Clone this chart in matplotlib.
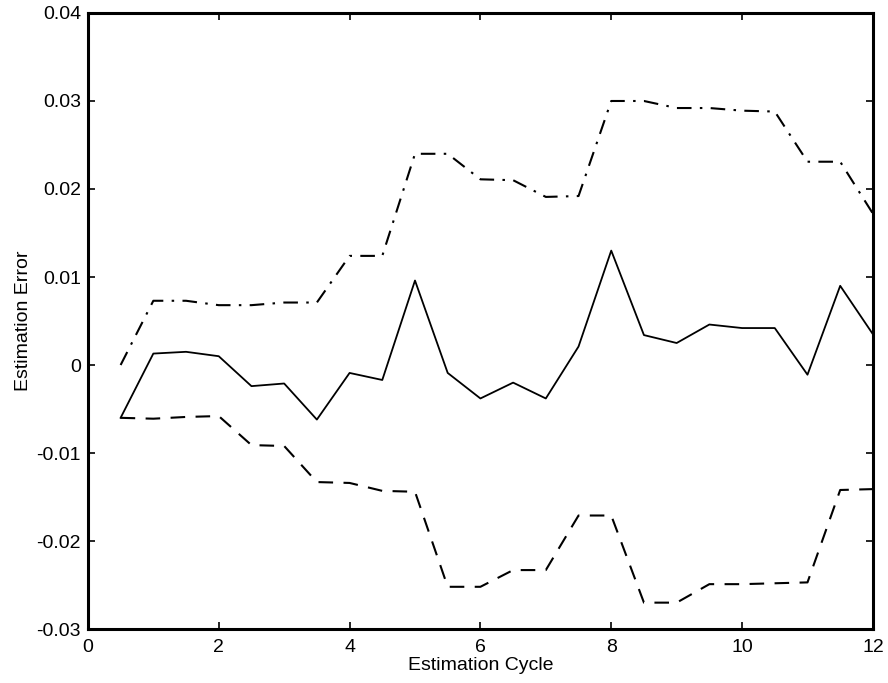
import matplotlib
matplotlib.use("Agg")
import matplotlib.pyplot as plt

plt.rcParams['font.family'] = ['Liberation Sans', 'DejaVu Sans']

# Estimation cycles (half-cycle steps)
cycle = [0.5, 1.0, 1.5, 2.0, 2.5, 3.0, 3.5, 4.0, 4.5, 5.0, 5.5, 6.0,
         6.5, 7.0, 7.5, 8.0, 8.5, 9.0, 9.5, 10.0, 10.5, 11.0, 11.5, 12.0]

# Estimation error
error = [-0.0060, 0.0013, 0.0015, 0.0010, -0.0024, -0.0021, -0.0062, -0.0009,
         -0.0017, 0.0096, -0.0009, -0.0038, -0.0020, -0.0038, 0.0021, 0.0130,
         0.0034, 0.0025, 0.0046, 0.0042, 0.0042, -0.0011, 0.0090, 0.0035]

# Upper bound
upper = [0.0000, 0.0073, 0.0073, 0.0068, 0.0068, 0.0071, 0.0071, 0.0124,
         0.0124, 0.0240, 0.0240, 0.0211, 0.0210, 0.0191, 0.0192, 0.0300,
         0.0300, 0.0292, 0.0292, 0.0289, 0.0288, 0.0231, 0.0231, 0.0172]

# Lower bound
lower = [-0.0060, -0.0061, -0.0059, -0.0058, -0.0091, -0.0092, -0.0133, -0.0134,
         -0.0143, -0.0144, -0.0252, -0.0252, -0.0233, -0.0233, -0.0171, -0.0171,
         -0.0270, -0.0270, -0.0249, -0.0249, -0.0248, -0.0247, -0.0142, -0.0141]

x_ticks = [0, 2, 4, 6, 8, 10, 12]
y_ticks = [-0.03, -0.02, -0.01, 0.0, 0.01, 0.02, 0.03, 0.04]
y_tick_labels = ['-0.03', '-0.02', '-0.01', '0', '0.01', '0.02', '0.03', '0.04']

fig = plt.figure(figsize=(8.88, 6.83), dpi=100)
ax = fig.add_axes([0.099, 0.079, 0.884, 0.902])

ax.plot(cycle, error, color='black', linewidth=1.3, linestyle='-')
ax.plot(cycle, upper, color='black', linewidth=1.5, linestyle=(0, (7, 4, 1.2, 4)))
ax.plot(cycle, lower, color='black', linewidth=1.5, linestyle=(0, (7, 5)))

ax.set_xlim(0, 12)
ax.set_ylim(-0.03, 0.04)
ax.set_xticks(x_ticks)
ax.set_xticklabels([str(t) for t in x_ticks])
ax.set_yticks(y_ticks)
ax.set_yticklabels(y_tick_labels)

ax.tick_params(direction='in', length=5, width=1.2, top=True, right=True,
               labelsize=14, colors='black')
ax.tick_params(axis='x', pad=7)
ax.tick_params(axis='y', pad=5)
for s in ax.spines.values():
    s.set_linewidth(2.2)

ax.set_xlabel('Estimation Cycle', fontsize=14, labelpad=1)
ax.set_ylabel('Estimation Error', fontsize=14, labelpad=3)

fig.savefig('out.png', dpi=100)
